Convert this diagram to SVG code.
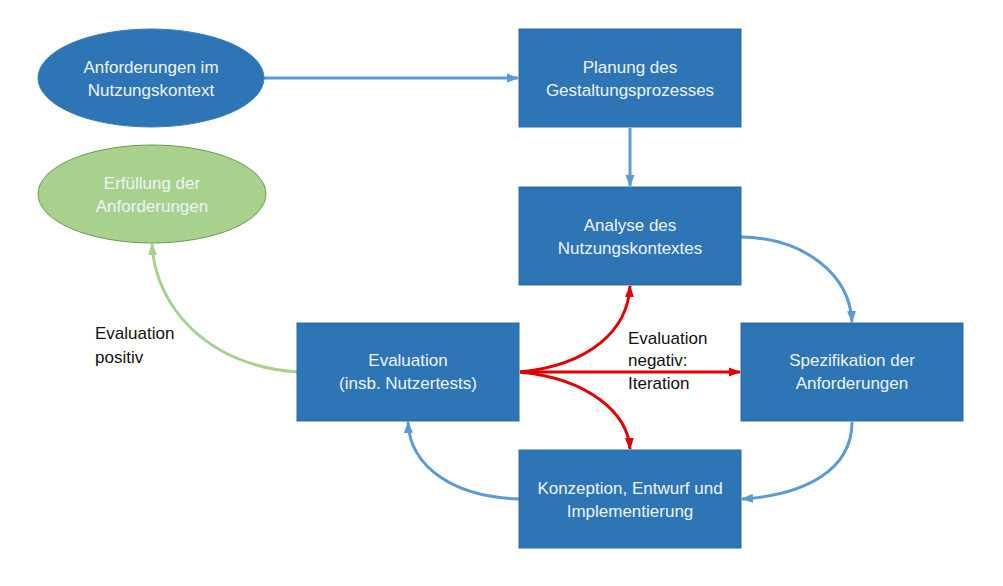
<svg xmlns="http://www.w3.org/2000/svg" width="1003" height="586" viewBox="0 0 1003 586">
<style>
.box{fill:#2e75b6;stroke:#2a6aa6;stroke-width:1}
.wt{font-family:"Liberation Sans",Arial,sans-serif;font-size:17px;fill:#eef3fa;text-anchor:middle}
.bt{font-family:"Liberation Sans",Arial,sans-serif;font-size:17px;fill:#111111}
.blue{fill:none;stroke:#5b9bd5;stroke-width:3}
.red{fill:none;stroke:#e00000;stroke-width:3}
.green{fill:none;stroke:#a9d18e;stroke-width:3}
</style>
<defs>
<marker id="ab" markerUnits="userSpaceOnUse" markerWidth="12" markerHeight="12" viewBox="0 0 12 12" refX="11" refY="6" orient="auto"><path d="M0,1.5 L12,6 L0,10.5 Z" fill="#5b9bd5"/></marker>
<marker id="ar" markerUnits="userSpaceOnUse" markerWidth="12" markerHeight="12" viewBox="0 0 12 12" refX="11" refY="6" orient="auto"><path d="M0,1.5 L12,6 L0,10.5 Z" fill="#e00000"/></marker>
<marker id="ag" markerUnits="userSpaceOnUse" markerWidth="12" markerHeight="12" viewBox="0 0 12 12" refX="11" refY="6" orient="auto"><path d="M0,1.5 L12,6 L0,10.5 Z" fill="#a9d18e"/></marker>
</defs>
<rect width="1003" height="586" fill="#ffffff"/>
<g id="connectors">
<path class="blue" d="M264,78 L518,78" marker-end="url(#ab)"/>
<path class="blue" d="M630,128 L630,186" marker-end="url(#ab)"/>
<path class="blue" d="M741,237 C805,238 850,275 852,322" marker-end="url(#ab)"/>
<path class="blue" d="M852,422 C852,470 805,495 742,499" marker-end="url(#ab)"/>
<path class="blue" d="M519,499 C455,497 410,468 408,422" marker-end="url(#ab)"/>
<path class="green" d="M297,372 C205,365 155,305 152,244" marker-end="url(#ag)"/>
<path class="red" d="M520,372 C590,365 628,330 630,286" marker-end="url(#ar)"/>
<path class="red" d="M520,372 L740,372" marker-end="url(#ar)"/>
<path class="red" d="M520,372 C590,379 628,414 630,449" marker-end="url(#ar)"/>
</g>
<g id="n-anforderungen">
<ellipse cx="151" cy="78" rx="113" ry="49" fill="#2e75b6" stroke="#3b7fc0" stroke-width="1"/>
<text class="wt"><tspan x="151" y="73">Anforderungen im</tspan><tspan x="151" y="96">Nutzungskontext</tspan></text>
</g>
<g id="n-erfuellung">
<ellipse cx="152" cy="194" rx="114" ry="49" fill="#a9d18e" stroke="#6a9a4c" stroke-width="1"/>
<text class="wt"><tspan x="152" y="189">Erfüllung der</tspan><tspan x="152" y="212">Anforderungen</tspan></text>
</g>
<g id="n-planung">
<rect class="box" x="519" y="29" width="222" height="98"/>
<text class="wt"><tspan x="630" y="73">Planung des</tspan><tspan x="630" y="96">Gestaltungsprozesses</tspan></text>
</g>
<g id="n-analyse">
<rect class="box" x="519" y="187" width="222" height="98"/>
<text class="wt"><tspan x="630" y="231">Analyse des</tspan><tspan x="630" y="254">Nutzungskontextes</tspan></text>
</g>
<g id="n-spezifikation">
<rect class="box" x="741" y="323" width="222" height="98"/>
<text class="wt"><tspan x="852" y="366">Spezifikation der</tspan><tspan x="852" y="389">Anforderungen</tspan></text>
</g>
<g id="n-evaluation">
<rect class="box" x="297" y="323" width="222" height="98"/>
<text class="wt"><tspan x="408" y="366">Evaluation</tspan><tspan x="408" y="389">(insb. Nutzertests)</tspan></text>
</g>
<g id="n-konzeption">
<rect class="box" x="519" y="450" width="222" height="98"/>
<text class="wt"><tspan x="630" y="494">Konzeption, Entwurf und</tspan><tspan x="630" y="517">Implementierung</tspan></text>
</g>
<g id="labels">
<text class="bt"><tspan x="628" y="344">Evaluation</tspan><tspan x="628" y="366">negativ:</tspan><tspan x="628" y="389">Iteration</tspan></text>
<text class="bt"><tspan x="95" y="339">Evaluation</tspan><tspan x="95" y="363">positiv</tspan></text>
</g>
</svg>
